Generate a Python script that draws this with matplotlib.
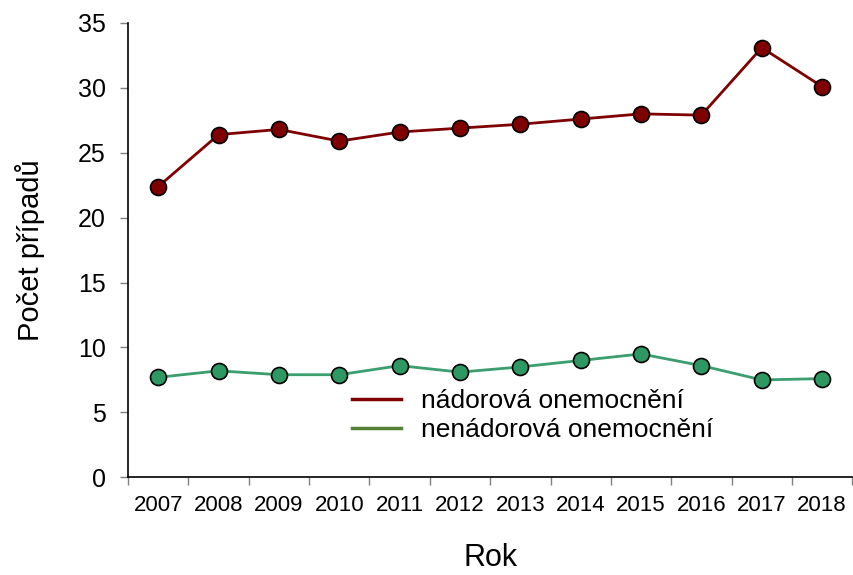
import matplotlib.pyplot as plt
import numpy as np

plt.rcParams['font.family'] = ['Liberation Sans', 'DejaVu Sans']

years = ['2007', '2008', '2009', '2010', '2011', '2012',
         '2013', '2014', '2015', '2016', '2017', '2018']
nadorova = [22.4, 26.4, 26.8, 25.9, 26.6, 26.9, 27.2, 27.6, 28.0, 27.9, 33.1, 30.1]
nenadorova = [7.7, 8.2, 7.9, 7.9, 8.6, 8.1, 8.5, 9.0, 9.5, 8.6, 7.5, 7.6]

red = '#7f0000'
green = '#3a9e6e'
green_marker = '#2e9863'
green_legend = '#538135'

fig = plt.figure(figsize=(8.54, 5.75), dpi=100)
ax = fig.add_axes([0.150, 0.170, 0.848, 0.790])

x = np.arange(len(years))
ax.plot(x, nadorova, color=red, lw=2, marker='o', ms=11.5,
        mfc=red, mec='black', mew=1.2, zorder=3)
ax.plot(x, nenadorova, color=green, lw=2, marker='o', ms=11.5,
        mfc=green_marker, mec='black', mew=1.2, zorder=3)

# legend handles are plain lines without markers
ax.plot([], [], color=red, lw=2.5, label='nádorová onemocnění')
ax.plot([], [], color=green_legend, lw=2.5, label='nenádorová onemocnění')
ax.legend(loc='center left', bbox_to_anchor=(0.309, 0.136), frameon=False,
          fontsize=19, handlelength=1.86, handletextpad=0.76, labelspacing=0.2,
          borderpad=0, borderaxespad=0)

ax.set_xlim(-0.5, len(years) - 0.5)
ax.set_ylim(0, 35)
ax.set_yticks(np.arange(0, 36, 5))
ax.tick_params(axis='y', labelsize=18, length=6, color='#808080', width=1, pad=10)

ax.set_xticks(x)
ax.set_xticklabels(years)
ax.set_xticks(np.arange(-0.5, len(years), 1), minor=True)
ax.tick_params(axis='x', which='major', length=0, labelsize=16, pad=13)
ax.tick_params(axis='x', which='minor', length=6, color='#808080', width=1)

for s in ['top', 'right']:
    ax.spines[s].set_visible(False)
ax.spines['left'].set_linewidth(1.2)
ax.spines['bottom'].set_linewidth(1.2)

ax.set_xlabel('Rok', fontsize=22, labelpad=19)
ax.set_ylabel('Počet případů', fontsize=21, labelpad=24)

fig.savefig('out.png', dpi=100)
